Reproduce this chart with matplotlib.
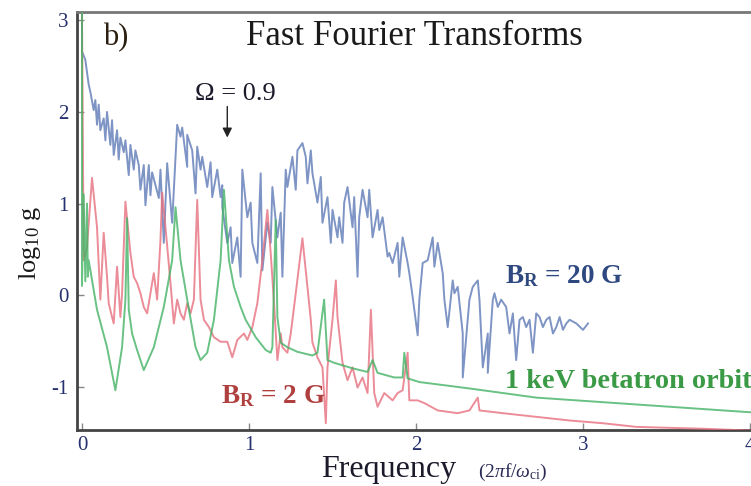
import matplotlib
matplotlib.use("Agg")
import matplotlib.pyplot as plt

plt.rcParams['font.family'] = ['Liberation Serif', 'DejaVu Serif']
plt.rcParams['mathtext.fontset'] = 'custom'
plt.rcParams['mathtext.rm'] = 'Liberation Serif'
plt.rcParams['mathtext.it'] = 'Liberation Serif:italic'
plt.rcParams['mathtext.bf'] = 'Liberation Serif:bold'
plt.rcParams['axes.unicode_minus'] = False

# ---------------- data ----------------
blue_x = [0.00, 0.00, 0.02, 0.04, 0.05, 0.07, 0.08, 0.09, 0.10, 0.11, 0.13, 0.14, 0.15, 0.17, 0.18,
          0.19, 0.21, 0.22, 0.23, 0.25, 0.26, 0.28, 0.29, 0.31, 0.32, 0.34, 0.35, 0.37, 0.38, 0.40,
          0.41, 0.42, 0.44, 0.46, 0.47, 0.49, 0.51, 0.54, 0.57, 0.59, 0.60, 0.63, 0.63, 0.66, 0.68,
          0.69, 0.71, 0.72, 0.75, 0.77, 0.78, 0.81, 0.83, 0.84, 0.84, 0.87, 0.89, 0.90, 0.93, 0.95,
          0.96, 0.99, 1.01, 1.02, 1.05, 1.07, 1.08, 1.11, 1.13, 1.14, 1.17, 1.19, 1.20, 1.22, 1.23,
          1.26, 1.28, 1.29, 1.32, 1.34, 1.35, 1.37, 1.38, 1.41, 1.43, 1.44, 1.47, 1.49, 1.50, 1.53,
          1.54, 1.56, 1.57, 1.59, 1.62, 1.63, 1.65, 1.66, 1.68, 1.71, 1.72, 1.74, 1.77, 1.78, 1.80,
          1.83, 1.84, 1.86, 1.89, 1.90, 1.92, 1.95, 1.96, 1.98, 2.01, 2.02, 2.04, 2.07, 2.10, 2.11,
          2.13, 2.16, 2.17, 2.19, 2.22, 2.23, 2.25, 2.28, 2.28, 2.31, 2.32, 2.34, 2.37, 2.38, 2.40,
          2.43, 2.43, 2.46, 2.47, 2.49, 2.51, 2.54, 2.56, 2.58, 2.60, 2.62, 2.64, 2.66, 2.68, 2.70,
          2.72, 2.74, 2.76, 2.78, 2.80, 2.82, 2.84, 2.86, 2.88, 2.90, 2.92, 2.96, 3.00, 3.03]
blue_y = [3.10, 2.66, 2.57, 2.30, 2.22, 2.02, 2.13, 1.86, 2.08, 1.80, 1.93, 1.69, 2.00, 1.64, 1.91,
          1.53, 1.80, 1.48, 1.72, 1.56, 1.69, 1.31, 1.64, 1.37, 1.58, 1.42, 1.15, 1.42, 0.98, 1.42,
          1.09, 1.34, 1.20, 1.06, 1.37, 0.57, 1.44, 0.79, 1.86, 1.73, 1.83, 1.40, 1.75, 1.58, 1.11,
          1.62, 1.37, 1.51, 1.18, 1.45, 1.07, 1.37, 1.07, 1.20, 0.96, 0.57, 0.74, 0.35, 0.63, 0.20,
          1.37, 0.85, 1.01, 0.57, 0.35, 1.33, 0.27, 0.79, 0.57, 1.18, 0.63, 0.90, 0.20, 1.37, 1.18,
          1.51, 1.15, 1.58, 1.66, 1.51, 1.22, 1.58, 1.33, 1.01, 1.29, 0.79, 1.07, 0.57, 0.93, 0.63,
          0.85, 0.57, 1.01, 1.18, 0.74, 1.07, 0.20, 0.85, 1.15, 0.85, 1.15, 0.63, 0.93, 0.71, 0.85,
          0.42, 0.46, 0.35, 0.57, 0.20, 0.63, 0.35, 0.24, -0.02, -0.44, -0.05, 0.35, 0.38, 0.63, 0.31,
          0.57, 0.24, -0.05, -0.35, 0.16, 0.02, 0.09, -0.42, -0.90, -0.27, -0.05, 0.09, 0.16, -0.05, -0.79,
          -0.42, -0.85, -0.05, 0.02, -0.13, -0.05, -0.13, -0.42, -0.20, -0.71, -0.27, -0.24, -0.35, -0.27, -0.63,
          -0.20, -0.24, -0.35, -0.27, -0.24, -0.42, -0.35, -0.24, -0.38, -0.31, -0.27, -0.31, -0.38, -0.31]

red_x = [0.00, 0.01, 0.03, 0.06, 0.09, 0.11, 0.13, 0.15, 0.16, 0.18, 0.19, 0.21, 0.23, 0.24, 0.26,
         0.29, 0.31, 0.33, 0.35, 0.37, 0.39, 0.41, 0.43, 0.45, 0.47, 0.48, 0.50, 0.53, 0.55, 0.57,
         0.59, 0.61, 0.63, 0.65, 0.67, 0.69, 0.71, 0.73, 0.76, 0.79, 0.83, 0.87, 0.90, 0.93, 0.97,
         0.99, 1.02, 1.05, 1.08, 1.11, 1.13, 1.15, 1.17, 1.19, 1.20, 1.23, 1.25, 1.28, 1.32, 1.35,
         1.37, 1.38, 1.41, 1.44, 1.46, 1.47, 1.50, 1.52, 1.53, 1.56, 1.59, 1.62, 1.65, 1.68, 1.71,
         1.73, 1.75, 1.77, 1.81, 1.86, 1.89, 1.92, 1.95, 1.96, 2.01, 2.05, 2.13, 2.25, 2.32, 2.37,
         2.38, 2.52, 2.72, 2.92, 3.12, 3.32, 3.52, 3.72, 4.00]
red_y = [3.10, 0.38, 0.52, 1.28, 0.74, -0.05, 0.68, 0.20, -0.09, -0.24, -0.31, 0.31, -0.24, 0.02, 1.02,
         0.46, 0.20, 0.13, 0.02, -0.13, -0.20, 0.02, 0.24, -0.05, 0.60, 1.12, 0.74, 0.13, -0.31, -0.05,
         -0.20, -0.27, -0.09, -0.20, -0.05, 1.04, -0.05, -0.27, -0.35, -0.46, -0.51, -0.51, -0.68, -0.49, -0.42,
         -0.49, -0.35, -0.09, 0.38, 0.93, 0.46, -0.09, -0.71, -0.42, -0.57, -0.63, -0.42, 0.02, 0.62, 0.09,
         -0.27, -0.52, -0.68, -0.79, -1.40, -0.79, -0.27, 0.16, -0.24, -0.74, -0.93, -0.79, -1.01, -0.90, -1.07,
         -0.16, -1.07, -1.22, -1.07, -1.15, -1.07, -1.04, -0.63, -1.15, -1.15, -1.18, -1.26, -1.29, -1.26, -1.12,
         -1.26, -1.29, -1.33, -1.37, -1.40, -1.44, -1.45, -1.46, -1.48]

green_x = [0.00, 0.00, 0.01, 0.02, 0.03, 0.035, 0.04, 0.09, 0.15, 0.20, 0.24, 0.26, 0.27, 0.28, 0.30,
           0.33, 0.37, 0.43, 0.49, 0.54, 0.56, 0.59, 0.63, 0.68, 0.71, 0.75, 0.79, 0.83, 0.85, 0.88,
           0.91, 0.95, 0.98, 1.04, 1.10, 1.13, 1.14, 1.16, 1.17, 1.19, 1.23, 1.29, 1.38, 1.41, 1.45,
           1.47, 1.51, 1.62, 1.71, 1.74, 1.77, 1.87, 1.92, 1.93, 1.95, 2.02, 2.32, 2.72, 3.12, 3.52,
           4.00]
green_y = [3.10, 0.10, 1.10, 0.15, 1.00, 0.20, 0.38, -0.16, -0.57, -1.04, -0.57, -0.05, 0.84, -0.16, -0.42,
           -0.60, -0.82, -0.57, -0.13, 0.38, 0.96, 0.38, -0.05, -0.57, -0.71, -0.63, -0.27, 0.38, 1.15, 0.38,
           0.09, -0.13, -0.27, -0.46, -0.60, -0.63, -0.57, 0.82, -0.24, -0.52, -0.57, -0.62, -0.66, -0.63, -0.05,
           -0.71, -0.74, -0.80, -0.84, -0.71, -0.85, -0.90, -0.90, -0.63, -0.91, -0.95, -1.02, -1.12, -1.17, -1.22,
           -1.28]

x_ticks = [0, 1, 2, 3, 4]
y_ticks = [-1, 0, 1, 2, 3]

# ---------------- figure ----------------
fig = plt.figure(figsize=(7.51, 4.86), dpi=100)
ax = fig.add_axes([0.1025, 0.115, 0.8975, 0.86])

blue_c = '#7089bf'
red_c = '#e6707f'
green_c = '#43b265'

ax.plot(blue_x, blue_y, color=blue_c, lw=1.4, alpha=0.9, zorder=2)
ax.plot(red_x, red_y, color=red_c, lw=1.4, alpha=0.8, zorder=3)
ax.plot(green_x, green_y, color=green_c, lw=1.4, alpha=0.8, zorder=4)

ax.set_xlim(-0.03, 4.006)
ax.set_ylim(-1.475, 3.09)
ax.set_xticks(x_ticks)
ax.set_yticks(y_ticks)
tick_col = '#26306e'
ax.tick_params(direction='in', length=5, width=1, color='#888888',
               labelsize=15, labelcolor=tick_col)
ax.tick_params(axis='x', pad=4)
ax.tick_params(axis='y', pad=6)
ax.spines['right'].set_visible(False)
for s in ['left', 'bottom']:
    ax.spines[s].set_linewidth(2.0)
    ax.spines[s].set_color('#444444')
ax.spines['top'].set_linewidth(2.0)
ax.spines['top'].set_color('#777777')

# texts
ax.text(0.125, 2.73, 'b)', fontsize=22, color='#2a1f10', ha='left', va='baseline')
ax.text(1.99, 2.73, 'Fast Fourier Transforms', fontsize=25, color='#1a1a1a',
        ha='center', va='baseline')
ax.text(0.92, 2.13, '\u03a9 = 0.9', fontsize=19, color='#1a1a2a', ha='center', va='baseline')
ax.annotate('', xy=(0.87, 1.69), xytext=(0.87, 2.09),
            arrowprops=dict(arrowstyle='-|>', color='#222222', lw=1.0,
                            mutation_scale=14))
ax.text(2.53, 0.13, r'B$_{\mathbf{R}}$ = 20 G', fontsize=19.5, fontweight='bold',
        color='#2e4880', ha='left', va='baseline')
ax.text(2.53, -1.02, '1 keV betatron orbit', fontsize=20.3, fontweight='bold',
        color='#3b9a45', ha='left', va='baseline', clip_on=False)
ax.text(0.83, -1.18, r'B$_{\mathbf{R}}$ = 2 G', fontsize=19.5, fontweight='bold',
        color='#b0403f', ha='left', va='baseline')

fig.text(0.040, 0.50, r'log$_{10}$ g', fontsize=19, rotation=90, ha='center',
         va='center', color='#1a1a1a')
fig.text(0.428, 0.0185, 'Frequency', fontsize=23, color='#1a1a2a', ha='left', va='baseline')
fig.text(0.636, 0.0185, r'(2$\pi$f/$\omega_{\mathrm{ci}}$)', fontsize=14, color='#2a2a55',
         ha='left', va='baseline')

fig.savefig('out.png', dpi=100)
